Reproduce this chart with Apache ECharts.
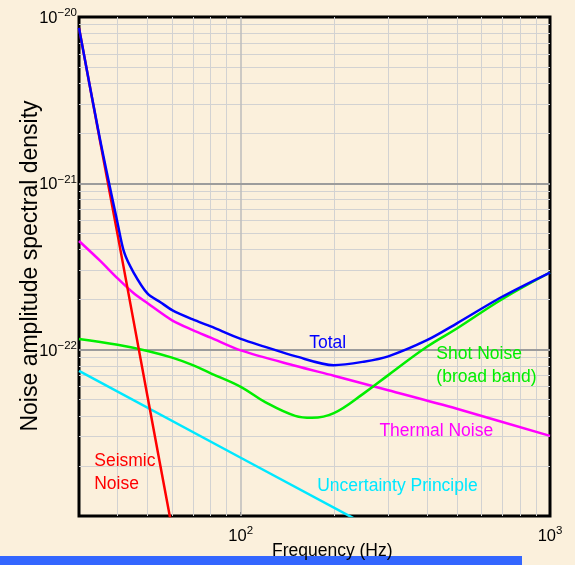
<!DOCTYPE html>
<html>
<head>
  <meta charset="utf-8">
</head>
<body style="height: 100%; margin: 0; background: #fbf0dc">
  <div id="container" style="width: 575px; height: 565px"></div>
  <script type="text/javascript" src="https://fastly.jsdelivr.net/npm/echarts@6/dist/echarts.min.js"></script>
  <script type="text/javascript">
// frequency (Hz) and amplitude spectral density
var seismicF = [30, 35, 40, 45, 50, 55, 60];
var seismicH = [8.6e-21, 1.84e-21, 4.9e-22, 1.5e-22, 5.2e-23, 2.0e-23, 8.4e-24];

var thermalF = [30, 35, 40, 45, 50, 60, 70, 80, 100, 150, 200, 300, 500, 1000];
var thermalH = [4.5e-22, 3.44e-22, 2.68e-22, 2.19e-22, 1.9e-22, 1.5e-22, 1.31e-22, 1.18e-22,
                9.9e-23, 8.0e-23, 6.97e-23, 5.7e-23, 4.41e-23, 3.03e-23];

var uncertF = [30, 100, 300];
var uncertH = [7.46e-23, 2.24e-23, 7.5e-24];

var shotF = [30, 40, 50, 60, 70, 80, 100, 120, 150, 170, 200, 250, 300, 400, 500, 700, 1000];
var shotH = [1.16e-22, 1.07e-22, 9.82e-23, 8.95e-23, 8.07e-23, 7.21e-23, 5.98e-23, 4.84e-23,
             4.0e-23, 3.89e-23, 4.15e-23, 5.46e-23, 7.03e-23, 1.04e-22, 1.34e-22, 2.01e-22, 2.91e-22];

var totalF = [30, 35, 40, 42, 45, 50, 55, 60, 70, 80, 100, 120, 150, 200, 250, 300, 400, 500, 700, 1000];
var totalH = [8.6e-21, 1.88e-21, 5.74e-22, 3.84e-22, 2.92e-22, 2.17e-22, 1.93e-22, 1.73e-22, 1.52e-22,
              1.38e-22, 1.16e-22, 1.04e-22, 9.14e-23, 8.07e-23, 8.47e-23, 9.12e-23, 1.14e-22, 1.44e-22,
              2.08e-22, 2.91e-22];

// grid lines (horizontal ones in units of 1e-23, drawn on a hidden helper axis)
var xMinor = [40, 50, 60, 70, 80, 90, 200, 300, 400, 500, 600, 700, 800, 900];
var xMajor = [100];
var yMinor = [2, 3, 4, 5, 6, 7, 8, 9, 20, 30, 40, 50, 60, 70, 80, 90, 200, 300, 400, 500, 600, 700, 800, 900];
var yMajor = [10, 100];

var FONT = '"Liberation Sans", Arial, sans-serif';

function pairs(f, h) {
  return f.map(function (v, i) { return [v, h[i]]; });
}

function powLabel(v) {
  var e = Math.log10(v);
  if (Math.abs(e - Math.round(e)) > 1e-6) return '';
  var n = Math.round(e);
  return '{b|10}{s|' + String(n).replace('-', '\u2212') + '}';
}

var labelRich = {
  b: { fontSize: 16.5, fontFamily: FONT, color: '#000', verticalAlign: 'bottom', lineHeight: 18 },
  s: { fontSize: 11.5, fontFamily: FONT, color: '#000', verticalAlign: 'bottom', padding: [0, 0, 8, 0] }
};

function note(text, f, h, color, align) {
  return {
    coord: [f, h],
    symbol: 'circle',
    symbolSize: 1,
    itemStyle: { color: 'rgba(0,0,0,0)' },
    label: {
      show: true,
      position: 'inside',
      formatter: text,
      color: color,
      fontSize: 17.5,
      lineHeight: 23,
      fontFamily: FONT,
      align: align || 'center',
      verticalAlign: 'middle'
    }
  };
}

function curve(name, f, h, color, smooth, notes) {
  return {
    name: name,
    type: 'line',
    data: pairs(f, h),
    showSymbol: false,
    smooth: smooth,
    clip: true,
    z: 3,
    lineStyle: { color: color, width: 2.5 },
    markPoint: { silent: true, z: 4, data: notes }
  };
}

var gridLines = []
  .concat(xMinor.map(function (v) { return { xAxis: v }; }))
  .concat(yMinor.map(function (v) { return { yAxis: v }; }))
  .concat(xMajor.map(function (v) { return { xAxis: v, lineStyle: { color: '#bdbdbd', width: 1.5 } }; }))
  .concat(yMajor.map(function (v) { return { yAxis: v, lineStyle: { color: '#9c9c9c', width: 2 } }; }));

var dom = document.getElementById('container');
var myChart = echarts.init(dom, null, { renderer: 'canvas' });

var option = {
  backgroundColor: '#fbf0dc',
  animation: false,
  grid: {
    left: 79, right: 25, top: 17, bottom: 49,
    show: true, borderColor: '#000', borderWidth: 3, backgroundColor: 'transparent',
    outerBoundsMode: 'none'
  },
  xAxis: {
    type: 'log',
    logBase: 10,
    min: 30,
    max: 1000,
    axisLine: { show: false },
    axisTick: {
      show: true, inside: true, length: 4,
      customValues: xMinor.concat(xMajor),
      lineStyle: { color: '#000', width: 1 }
    },
    splitLine: { show: false },
    axisLabel: { formatter: powLabel, rich: labelRich, margin: 9, showMaxLabel: true }
  },
  yAxis: [
    {
      type: 'log',
      logBase: 10,
      min: 1e-23,
      max: 1e-20,
      axisLine: { show: false },
      axisTick: { show: false },
      splitLine: { show: false },
      axisLabel: { formatter: powLabel, rich: labelRich, margin: 2, showMaxLabel: true, showMinLabel: true }
    },
    {
      type: 'log',
      logBase: 10,
      min: 1,
      max: 1000,
      position: 'left',
      axisLine: { show: false },
      axisTick: {
        show: true, inside: true, length: 4,
        customValues: yMinor.concat(yMajor),
        lineStyle: { color: '#000', width: 1 }
      },
      splitLine: { show: false },
      axisLabel: { show: false }
    }
  ],
  graphic: [
    { type: 'rect', left: 0, bottom: 0, shape: { width: 522, height: 9 }, style: { fill: '#3366ff' }, z: 10 },
    { type: 'text', left: 272, top: 542, z: 11,
      style: { text: 'Frequency (Hz)', fontSize: 17.5, fontFamily: FONT, fill: '#000' } },
    { type: 'text', x: 31, y: 266, rotation: Math.PI / 2, z: 11,
      style: { text: 'Noise amplitude spectral density', fontSize: 23, fontFamily: FONT, fill: '#000',
               align: 'center', verticalAlign: 'middle' } }
  ],
  series: [
    {
      name: 'grid',
      type: 'line',
      yAxisIndex: 1,
      data: [[30, 1]],
      showSymbol: false,
      z: 1,
      markLine: {
        silent: true,
        z: 1,
        symbol: ['none', 'none'],
        label: { show: false },
        lineStyle: { color: '#d2d2d2', width: 1, type: 'solid' },
        data: gridLines
      }
    },
    curve('Uncertainty Principle', uncertF, uncertH, '#00e8ff', false,
      [note('Uncertainty Principle', 321, 1.52e-23, '#00e8ff')]),
    curve('Thermal Noise', thermalF, thermalH, '#ff00ff', 0.3,
      [note('Thermal Noise', 429, 3.25e-23, '#ff00ff')]),
    curve('Shot Noise', shotF, shotH, '#00ee00', 0.4,
      [note('Shot Noise\n(broad band)', 429, 8.0e-23, '#00ee00', 'left')]),
    curve('Seismic Noise', seismicF, seismicH, '#ff0000', false,
      [note('Seismic\nNoise', 33.6, 1.82e-23, '#ff0000', 'left')]),
    curve('Total', totalF, totalH, '#0000ff', 0.3,
      [note('Total', 191, 1.10e-22, '#0000ff')])
  ]
};

myChart.setOption(option);
window.addEventListener('resize', myChart.resize);
  </script>
</body>
</html>
